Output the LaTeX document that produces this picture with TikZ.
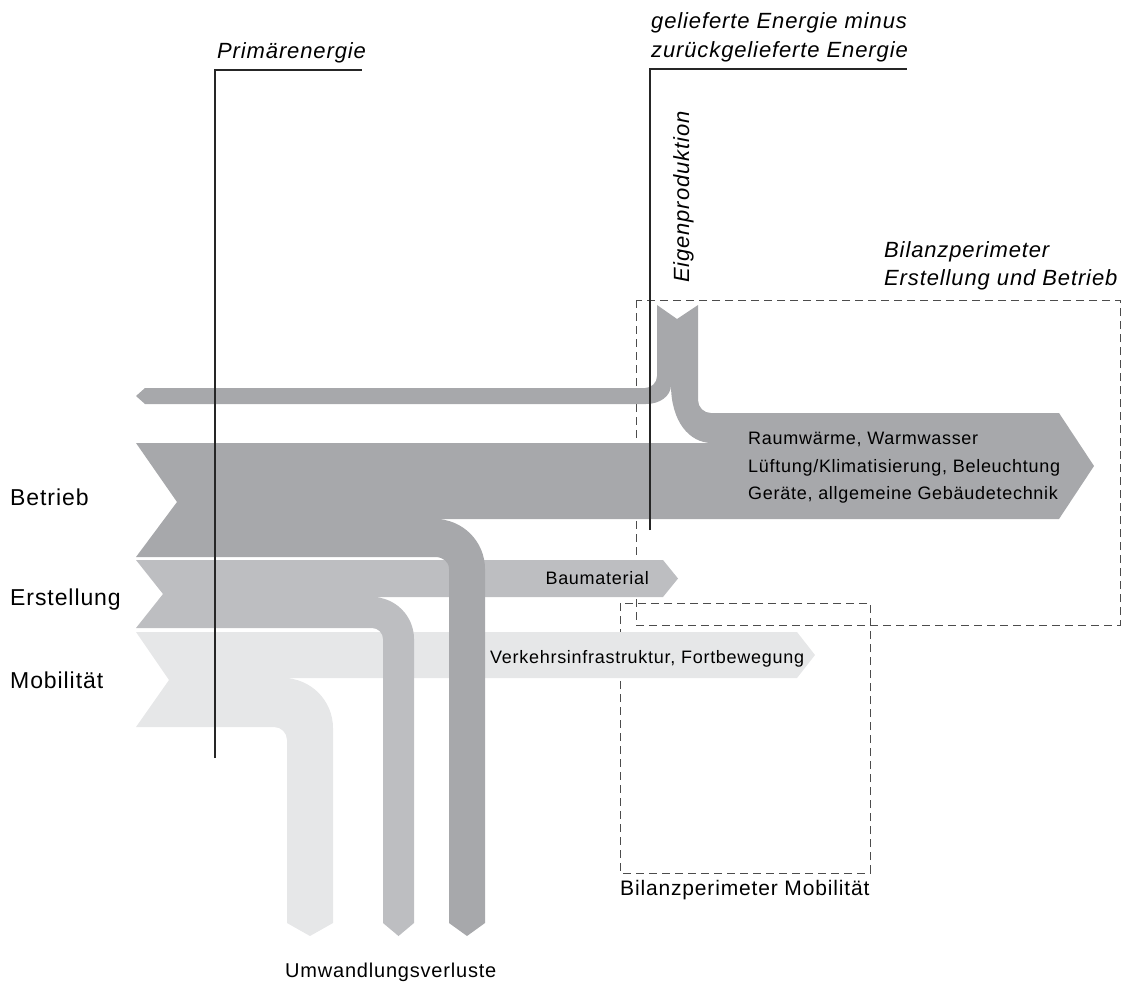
\documentclass[tikz,border=0pt]{standalone}
\usepackage{fontspec}
\setmainfont{Liberation Sans}[LetterSpace=4]
\newfontfamily\notefont{Liberation Sans}[LetterSpace=4]
\usepackage{xcolor}
\definecolor{betrieb}{RGB}{167,168,171}
\definecolor{erstellung}{RGB}{189,190,193}
\definecolor{mobil}{RGB}{230,231,232}
\tikzset{
  perimeter/.style={draw=black!70, line width=0.9pt, dash pattern=on 8pt off 5pt},
  leader/.style={draw=black!85, line width=1.1pt},
  sector/.style={font=\fontsize{23}{27}\selectfont, anchor=base west, inner sep=0pt},
  flowtext/.style={font=\fontsize{18}{22}\selectfont, inner sep=0pt},
  note/.style={font=\notefont\itshape\fontsize{22}{26}\selectfont, anchor=base west, inner sep=0pt},
  caption/.style={font=\fontsize{20}{24}\selectfont, anchor=base west, inner sep=0pt}
}

\begin{document}
\begin{tikzpicture}[x=1pt,y=-1pt]
  \useasboundingbox (0,0) rectangle (1126,983);
  \draw[perimeter] (636,300) rectangle (1120,625);
  \draw[perimeter] (620,603) rectangle (870,873);

  \fill[mobil] (136,632) -- (797,632) -- (815,655) -- (797,678) -- (283,678)
    .. controls (310.6,678) and (333,700.4) .. (333,728) -- (333,923) -- (310,936) -- (287,923) -- (287,740)
    .. controls (287,732.8) and (281.2,727) .. (274,727) -- (136,727) -- (169,680) -- cycle;
  \fill[erstellung] (136,560) -- (663,560) -- (678,578.5) -- (663,597) -- (372,597)
    .. controls (395.2,597) and (414,615.8) .. (414,639) -- (414,923) -- (398.5,936) -- (383,923) -- (383,639)
    .. controls (383,632.9) and (378.1,628) .. (372,628) -- (136,628) -- (163,594) -- cycle;
  \fill[betrieb] (136,443) -- (714,443) -- (714,413) -- (1059,413) -- (1094,466) -- (1059,519) -- (435,519)
    .. controls (462.6,519) and (485,541.4) .. (485,569) -- (485,923) -- (467,936) -- (449,923) -- (449,569)
    .. controls (449,561.3) and (442.7,557) .. (435,557) -- (136,557) -- (177,502) -- cycle;
  \fill[betrieb] (657,305) -- (677,319) -- (698,305) -- (698,400)
    .. controls (698,407.2) and (703.8,413) .. (711,413) -- (716,413) -- (716,443) -- (712,443)
    .. controls (689,443) and (671,421) .. (671,385) .. controls (671,396) and (660,404) .. (646,404)
    -- (145,404) -- (136,396) -- (145,388) -- (645,388) .. controls (651.6,388) and (657,382.6) .. (657,376) -- cycle;

  \coordinate (primfoot) at (215,758);
  \coordinate (primtop) at (215,70);
  \coordinate (primend) at (362,70);
  \draw[leader] (primfoot) -- (primtop) -- (primend);
  \coordinate (netfoot) at (650,530);
  \coordinate (nettop) at (650,69);
  \coordinate (netend) at (907,69);
  \draw[leader] (netfoot) -- (nettop) -- (netend);

  \node[note] (primaer) at (217,58) {Primärenergie};
  \node[note] (geliefert) at (651,28) {gelieferte Energie minus};
  \node[note] (zurueck) at (651,57) {zurückgelieferte Energie};
  \node[note, rotate=90] (eigen) at (689,283) {Eigenproduktion};
  \node[note] (perim1) at (884,257) {Bilanzperimeter};
  \node[note] (perim2) at (884,285) {Erstellung und Betrieb};

  \node[sector] (betriebtxt) at (10,505) {Betrieb};
  \node[sector] (erstelltxt) at (10,605) {Erstellung};
  \node[sector] (mobiltxt) at (10,688) {Mobilität};

  \node[flowtext, anchor=base west] (use1) at (748,444) {Raumwärme, Warmwasser};
  \node[flowtext, anchor=base west] (use2) at (748,472) {Lüftung/Klimatisierung, Beleuchtung};
  \node[flowtext, anchor=base west] (use3) at (748,499) {Geräte, allgemeine Gebäudetechnik};
  \node[flowtext, anchor=base east] (bau) at (649,584) {Baumaterial};
  \node[flowtext, anchor=base west] (verkehr) at (490,663) {Verkehrsinfrastruktur, Fortbewegung};

  \node[caption, font=\fontsize{21}{25}\selectfont] (perimmob) at (620,895) {Bilanzperimeter Mobilität};
  \node[caption] (verluste) at (285,977) {Umwandlungsverluste};
\end{tikzpicture}
\end{document}
